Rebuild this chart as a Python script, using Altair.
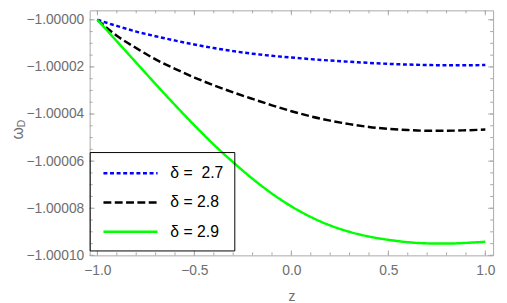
import altair as alt
import pandas as pd

# ---- data ----
z_vals = [-1.0, -0.9, -0.8, -0.7, -0.6, -0.5, -0.4, -0.3, -0.2, -0.1, 0.0,
          0.1, 0.2, 0.3, 0.4, 0.5, 0.6, 0.7, 0.8, 0.9, 1.0]

omega_27 = [-1.0, -1.0000026, -1.000005, -1.000007, -1.0000088, -1.0000105,
            -1.000012, -1.0000133, -1.0000144, -1.0000153, -1.000016,
            -1.0000167, -1.0000173, -1.0000178, -1.0000183, -1.0000187,
            -1.000019, -1.0000192, -1.0000193, -1.0000193, -1.0000192]
omega_28 = [-1.0, -1.0000068, -1.000012, -1.0000168, -1.0000208, -1.0000245,
            -1.0000278, -1.0000308, -1.0000336, -1.0000363, -1.0000388,
            -1.000041, -1.0000428, -1.0000443, -1.0000455, -1.0000463,
            -1.0000468, -1.0000471, -1.0000471, -1.0000469, -1.0000466]
omega_29 = [-1.0, -1.0000091, -1.0000182, -1.0000273, -1.0000362, -1.0000448,
            -1.000053, -1.0000605, -1.0000675, -1.0000738, -1.0000792,
            -1.0000837, -1.0000873, -1.00009, -1.000092, -1.0000934,
            -1.0000944, -1.0000949, -1.000095, -1.0000947, -1.0000942]

series_labels = ["δ =\u00a0 2.7", "δ = 2.8", "δ = 2.9"]
series_colors = ["#0000ff", "#000000", "#00ff00"]
series_dashes = [[4, 2.7], [8, 3.5], [1, 0]]

x_tick_labels = [-1.0, -0.5, 0.0, 0.5, 1.0]
x_minor = [-1.0, -0.9, -0.8, -0.7, -0.6, -0.5, -0.4, -0.3, -0.2, -0.1, 0.0,
           0.1, 0.2, 0.3, 0.4, 0.5, 0.6, 0.7, 0.8, 0.9, 1.0]
y_tick_labels = [-1.0, -1.00002, -1.00004, -1.00006, -1.00008, -1.0001]
y_minor = [-1.0, -1.000005, -1.00001, -1.000015, -1.00002, -1.000025,
           -1.00003, -1.000035, -1.00004, -1.000045, -1.00005, -1.000055,
           -1.00006, -1.000065, -1.00007, -1.000075, -1.00008, -1.000085,
           -1.00009, -1.000095, -1.0001]

# ---- build table ----
rows = []
for lab, vals in zip(series_labels, [omega_27, omega_28, omega_29]):
    for zz, w in zip(z_vals, vals):
        rows.append({"z": zz, "w": w, "delta": lab})
df = pd.DataFrame(rows)

W, H = 410, 249
GRAY = "#6e6e6e"
TICK = "#a8a8a8"
FONT = "Liberation Sans"

xscale = alt.Scale(domain=[-1.04, 1.04], nice=False, zero=False)
yscale = alt.Scale(domain=[-1.0001, -0.999996], nice=False, zero=False)

xaxis = alt.Axis(values=x_tick_labels, domain=False, ticks=False,
                 labelExpr="datum.value < 0 ? '\u2212' + format(-datum.value, '.1f') : format(datum.value, '.1f')",
                 grid=False, labelFontSize=14, labelColor=GRAY, labelFont=FONT,
                 labelPadding=8, title="z", titleFontSize=14, titleFont=FONT,
                 titleColor=GRAY, titleFontWeight="normal", titlePadding=13)
yaxis = alt.Axis(values=y_tick_labels, domain=False, ticks=False,
                 labelExpr="'\u2212' + format(-datum.value, '.5f')",
                 grid=False, labelFontSize=14, labelColor=GRAY, labelFont=FONT,
                 labelPadding=6, title=None)

lines = alt.Chart(df).mark_line(strokeWidth=2.5, interpolate="monotone", clip=True).encode(
    x=alt.X("z:Q", scale=xscale, axis=xaxis),
    y=alt.Y("w:Q", scale=yscale, axis=yaxis),
    color=alt.Color("delta:N",
                    scale=alt.Scale(domain=series_labels, range=series_colors),
                    sort=series_labels,
                    legend=alt.Legend(orient="none", legendX=0, legendY=144, title=None,
                                      symbolType="M-3,0H3", symbolSize=336,
                                      symbolStrokeWidth=2.5, labelFontSize=16,
                                      labelFont=FONT, labelColor="black",
                                      padding=11, rowPadding=10.7, strokeColor="black",
                                      labelOffset=30, symbolOffset=20, cornerRadius=0,
                                      fillColor="transparent")),
    strokeDash=alt.StrokeDash("delta:N",
                              scale=alt.Scale(domain=series_labels, range=series_dashes),
                              sort=series_labels),
)

xmaj = pd.DataFrame({"z": x_tick_labels})
xmin = pd.DataFrame({"z": x_minor})
ymaj = pd.DataFrame({"w": y_tick_labels})
ymin = pd.DataFrame({"w": y_minor})


def xticks(d, length):
    xe = alt.X("z:Q", scale=xscale, axis=xaxis)
    bottom = alt.Chart(d).mark_rule(color=TICK, strokeWidth=1).encode(
        x=xe, y=alt.value(H), y2=alt.value(H - length))
    top = alt.Chart(d).mark_rule(color=TICK, strokeWidth=1).encode(
        x=xe, y=alt.value(0), y2=alt.value(length))
    return [bottom, top]


def yticks(d, length):
    ye = alt.Y("w:Q", scale=yscale, axis=yaxis)
    left = alt.Chart(d).mark_rule(color=TICK, strokeWidth=1).encode(
        y=ye, x=alt.value(0), x2=alt.value(length))
    right = alt.Chart(d).mark_rule(color=TICK, strokeWidth=1).encode(
        y=ye, x=alt.value(W), x2=alt.value(W - length))
    return [left, right]


tick_layers = xticks(xmin, 3) + xticks(xmaj, 5) + yticks(ymin, 3) + yticks(ymaj, 5)

title_w = alt.Chart(pd.DataFrame({"t": ["ω"]})).mark_text(
    angle=270, fontSize=16, font=FONT, color=GRAY, align="center", baseline="middle"
).encode(text="t:N", x=alt.value(-73), y=alt.value(125))
title_d = alt.Chart(pd.DataFrame({"t": ["D"]})).mark_text(
    angle=270, fontSize=11, font=FONT, color=GRAY, align="center", baseline="middle"
).encode(text="t:N", x=alt.value(-69), y=alt.value(115))

chart = alt.layer(lines, *tick_layers, title_w, title_d).properties(
    width=W, height=H,
    autosize=alt.AutoSizeParams(type="none"),
    padding={"left": 83, "top": 0, "right": 6, "bottom": 46},
    background="white",
).configure_view(stroke=TICK, strokeWidth=1)

chart.save("out.html", embed_options={"renderer": "svg", "actions": False})
